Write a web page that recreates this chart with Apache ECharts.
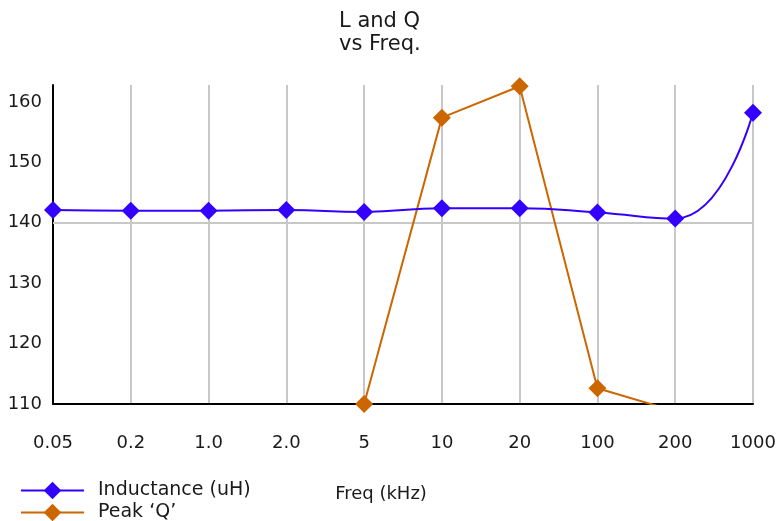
<!DOCTYPE html>
<html>
<head>
<meta charset="utf-8">
<script src="https://cdn.jsdelivr.net/npm/echarts@6/dist/echarts.min.js"></script>
<style>
html,body{margin:0;padding:0;background:#fff;}
#c{width:779px;height:521px;}
</style>
</head>
<body>
<div id="c"></div>
<script>
var categories = ['0.05', '0.2', '1.0', '2.0', '5', '10', '20', '100', '200', '1000'];
var inductance = [142.1, 142.0, 142.0, 142.1, 141.8, 142.4, 142.4, 141.7, 140.7, 158.2];
var peakQ = ['-', '-', '-', '-', 110.0, 157.4, 162.6, 112.6, 108.8, '-'];
var titleText = 'L and Q\nvs Freq.';
var xName = 'Freq (kHz)';
var seriesNames = ['Inductance (uH)', 'Peak \u2018Q\u2019'];

var FONT = 'DejaVu Sans';
var TXT = '#1a1a1a';
var chart = echarts.init(document.getElementById('c'), null, {renderer: 'canvas'});
chart.setOption({
  animation: false,
  backgroundColor: '#fff',
  title: {
    text: titleText,
    left: 334,
    top: 5,
    textAlign: 'left',
    textStyle: {fontFamily: FONT, fontSize: 21, fontWeight: 'normal', color: TXT, lineHeight: 23, align: 'left'}
  },
  legend: {
    orient: 'vertical',
    left: 20,
    top: 481,
    height: 80,
    itemWidth: 63,
    itemHeight: 22,
    itemGap: 3,
    padding: 0,
    textStyle: {fontFamily: FONT, fontSize: 19, color: TXT, padding: [0, 0, 0, 9]},
    data: seriesNames
  },
  grid: {left: 53, right: 26, top: 85, bottom: 117, containLabel: false},
  xAxis: {
    type: 'category',
    data: categories,
    boundaryGap: false,
    name: xName,
    nameLocation: 'middle',
    nameGap: 81,
    nameTextStyle: {fontFamily: FONT, fontSize: 18, color: TXT, padding: [0, 44, 0, 0]},
    axisLine: {lineStyle: {color: '#000', width: 2}},
    axisTick: {show: false},
    axisLabel: {fontFamily: FONT, fontSize: 18, color: TXT, margin: 30},
    splitLine: {show: true, lineStyle: {color: '#c8c8c8', width: 2}}
  },
  yAxis: {
    type: 'value',
    min: 110,
    max: 162.8,
    interval: 10,
    axisLine: {show: true, lineStyle: {color: '#000', width: 2}},
    axisTick: {show: false},
    axisLabel: {fontFamily: FONT, fontSize: 18, color: TXT, margin: 11, showMaxLabel: false},
    splitLine: {show: false}
  },
  series: [
    {
      name: seriesNames[0],
      type: 'line',
      data: inductance,
      smooth: 0.5,
      symbol: 'diamond',
      symbolSize: 18,
      color: '#3300ff',
      lineStyle: {width: 2, color: '#3300ff'},
      itemStyle: {color: '#3300ff'},
      z: 3,
      markLine: {
        silent: true,
        z: 1,
        symbol: ['none', 'none'],
        label: {show: false},
        lineStyle: {color: '#c8c8c8', width: 2, type: 'solid'},
        data: [{yAxis: 140}]
      }
    },
    {
      name: seriesNames[1],
      type: 'line',
      data: peakQ,
      symbol: 'diamond',
      symbolSize: 18,
      color: '#cc6600',
      lineStyle: {width: 2, color: '#cc6600'},
      itemStyle: {color: '#cc6600'},
      clip: true,
      z: 2
    }
  ]
});
</script>
</body>
</html>
